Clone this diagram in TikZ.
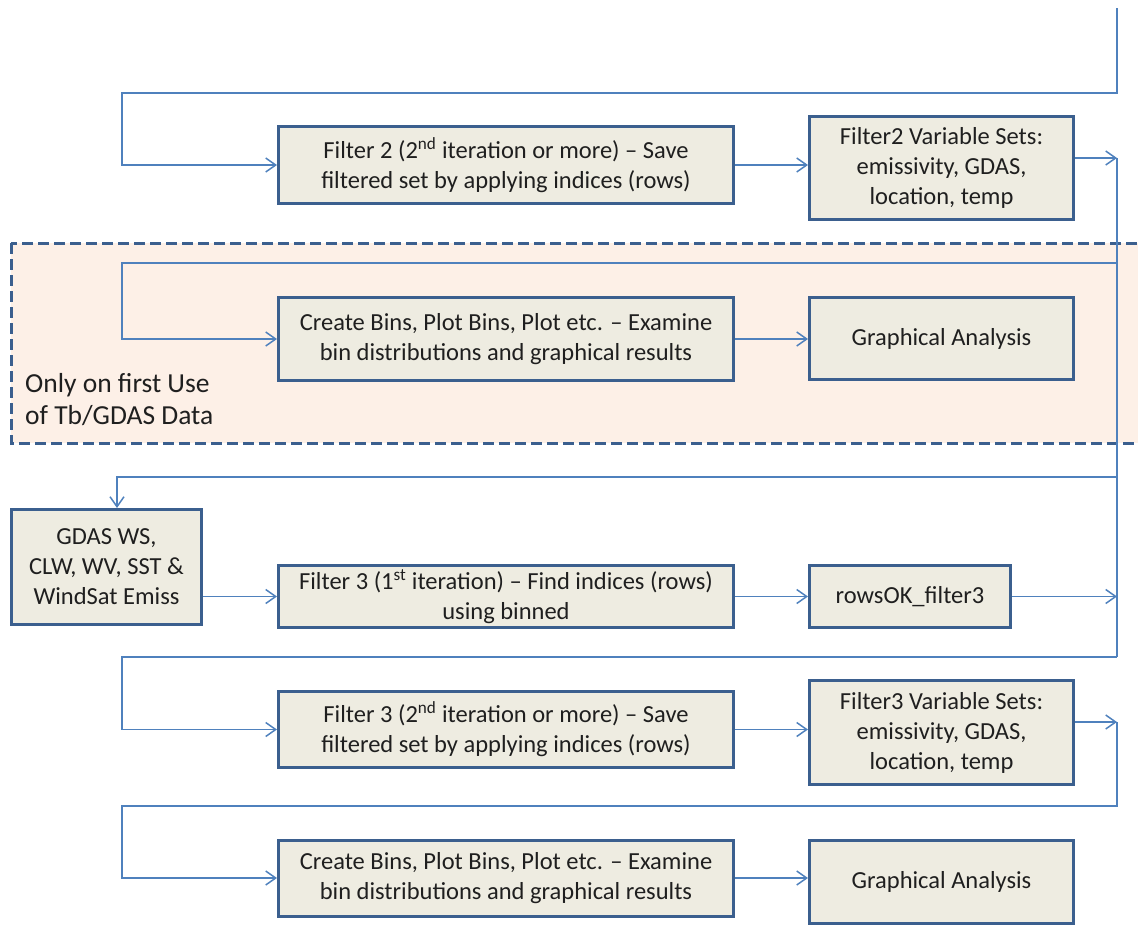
\documentclass[tikz,border=0pt]{standalone}
\usepackage{fontspec}
\setmainfont{Carlito}
\usetikzlibrary{arrows.meta}
\definecolor{conncol}{HTML}{4F81BD}
\definecolor{boxborder}{HTML}{3B5F8E}
\definecolor{boxfill}{HTML}{EEECE1}
\definecolor{peach}{HTML}{FDF0E7}
\tikzset{
  box/.style={draw=boxborder, line width=3pt, fill=boxfill, align=center, inner sep=0pt,
    font=\fontsize{24.5}{30}\selectfont, text=black!88},
  line/.style={draw=conncol, line width=1.5pt},
  conn/.style={line, -{Straight Barb[length=10pt,width=14pt,line width=1.5pt]}},
}
\begin{document}
\begin{tikzpicture}[x=1pt,y=-1pt]
\useasboundingbox (0,0) rectangle (1138,932);
% dashed region
\draw[boxborder, line width=3pt, fill=peach, dash pattern=on 11pt off 5pt] (11,243) rectangle (1150,443);
\node[anchor=west, align=left, inner sep=0pt, font=\fontsize{27.5}{32}\selectfont, text=black!88] (note) at (25,400) {Only on first Use\\of Tb/GDAS Data};

% boxes
\node[box, minimum width=455pt, minimum height=77pt] (A) at (506,165) {Filter 2 (2\textsuperscript{nd} iteration or more) – Save\\filtered set by applying indices (rows)};
\node[box, minimum width=264pt, minimum height=103pt] (B) at (941.5,168) {Filter2 Variable Sets:\\emissivity, GDAS,\\location, temp};
\node[box, minimum width=455pt, minimum height=83pt] (C) at (506,339) {Create Bins, Plot Bins, Plot etc. – Examine\\bin distributions and graphical results};
\node[box, minimum width=264pt, minimum height=82pt] (D) at (941.5,338.5) {Graphical Analysis};
\node[box, minimum width=190pt, minimum height=115pt] (E) at (106.5,567) {GDAS WS,\\CLW, WV, SST \&\\WindSat Emiss};
\node[box, minimum width=455pt, minimum height=62pt] (F) at (506,596.5) {Filter 3 (1\textsuperscript{st} iteration) – Find indices (rows)\\using binned};
\node[box, minimum width=201pt, minimum height=62pt] (G) at (910,596.5) {rowsOK\_filter3};
\node[box, minimum width=455pt, minimum height=76pt] (H) at (506,729.5) {Filter 3 (2\textsuperscript{nd} iteration or more) – Save\\filtered set by applying indices (rows)};
\node[box, minimum width=264pt, minimum height=104pt] (I) at (941.5,732.5) {Filter3 Variable Sets:\\emissivity, GDAS,\\location, temp};
\node[box, minimum width=455pt, minimum height=76pt] (J) at (506,878) {Create Bins, Plot Bins, Plot etc. – Examine\\bin distributions and graphical results};
\node[box, minimum width=264pt, minimum height=83pt] (K) at (941.5,882) {Graphical Analysis};

% coordinates
\coordinate (t0) at (1117,8);
\coordinate (l1) at (122,93);
\coordinate (r1) at (1117,158);
\coordinate (r2) at (1117,263);
\coordinate (l2) at (122,263);
\coordinate (r3) at (1117,477);
\coordinate (l3) at (117,477);
\coordinate (r5) at (1117,657);
\coordinate (l5) at (122,657);
\coordinate (r6) at (1117,722);
\coordinate (r7) at (1117,806);
\coordinate (l7) at (122,806);

% connectors
\draw[conn] (t0) |- (l1) |- (A.west);
\draw[conn] (A.east) -- (A.east -| B.west);
\draw[conn] (B.east |- r1) -- (r1);
\draw[line] (r1) -- (r5);
\draw[conn] (r2) -- (l2) |- (C.west);
\draw[conn] (C.east) -- (C.east -| D.west);
\draw[conn] (r3) -- (l3) -- (l3 |- E.north);
\draw[conn] (E.east |- F.west) -- (F.west);
\draw[conn] (F.east) -- (G.west);
\draw[conn] (G.east) -- (G.east -| r1);
\draw[conn] (r5) -- (l5) |- (H.west);
\draw[conn] (H.east) -- (H.east -| I.west);
\draw[conn] (I.east |- r6) -- (r6);
\draw[conn] (r6) -- (r7) -- (l7) |- (J.west);
\draw[conn] (J.east) -- (J.east -| K.west);
\end{tikzpicture}
\end{document}
